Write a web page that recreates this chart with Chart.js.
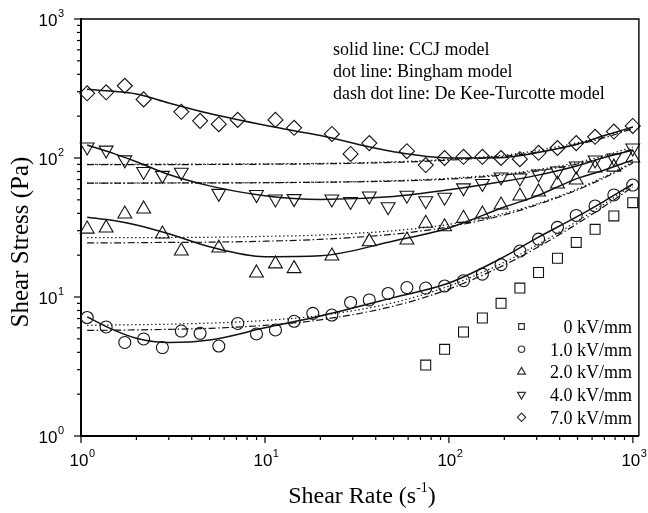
<!DOCTYPE html>
<html>
<head>
<meta charset="utf-8">
<script src="https://cdn.jsdelivr.net/npm/chart.js@4.4.1/dist/chart.umd.min.js"></script>
<style>
  html, body { margin: 0; padding: 0; background: #fff; }
  canvas { display: block; }
</style>
</head>
<body>
<canvas id="chart" width="648" height="513"></canvas>
<script>
// measured shear rates (s^-1), shared by all field strengths
const rates = [1.08, 1.37, 1.73, 2.19, 2.77, 3.51, 4.44, 5.61, 7.11, 8.99,
  11.4, 14.4, 18.2, 23.1, 29.2, 36.9, 46.7, 59.1, 74.8, 94.7,
  120, 152, 192, 243, 307, 389, 492, 623, 788, 998];

// shear stress (Pa), null = no symbol
const stress0kV = [null, null, null, null, null, null, null, null, null, null,
  null, null, null, null, null, null, null, null, 3.24, 4.2,
  5.6, 7.06, 9.01, 11.6, 15.0, 19.0, 24.7, 30.7, 38.3, 47.7];
const stress1kV = [7.12, 6.09, 4.71, 4.99, 4.33, 5.69, 5.48, 4.44, 6.45, 5.42,
  5.79, 6.69, 7.63, 7.42, 9.13, 9.52, 10.6, 11.7, 11.6, 12.0,
  13.1, 14.6, 17.1, 21.4, 26.1, 31.7, 38.6, 45.2, 54.2, 63.9];
const stress2kV = [30.8, 31.4, 39.5, 43, 28.4, 21.4, null, 22.5, null, 14.9,
  17.3, 16.0, null, 19.7, null, 25, null, 25.7, 33.9, 32,
  36.8, 39.5, 45.9, 53.3, 57, 65, 69.5, 84.7, 86, 100];
const stress4kV = [120, 114, 97, 80, 75, 79, null, 55.7, null, 54.6,
  50.7, 51, null, 50.7, 48.7, 53.3, 44.6, 54, 49.3, 52.2,
  61, 65.6, 73, 71.8, 76.7, 80.6, 87.6, 96.8, 100, 118];
const stress7kV = [292, 297, 331, 264, null, 215, 185, 175, 188, null,
  188, 165, null, 149, 107, 128, null, 112, 89, 100,
  102, 102, 100, 98, 109, 118, 128, 142, 155, 170];

// model curves
const modelRates = [1.08, 1.5, 2, 3, 5, 10, 20, 50, 100, 200, 300, 500, 700, 1000];
const ccj1kV = [7.2, 5.8, 5.05, 4.7, 4.9, 6.0, 7.3, 9.9, 12.6, 19.5, 26.5, 38, 49, 65];
const bingham1kV = [6.26, 6.29, 6.32, 6.37, 6.49, 6.78, 7.36, 9.1, 12.0, 17.8, 23.6, 35.2, 46.8, 64.2];
const dkt1kV = [5.75, 5.77, 5.8, 5.85, 5.95, 6.25, 6.85, 8.6, 11.4, 17.0, 22.6, 33.8, 45, 62];
const ccj2kV = [37.5, 35.5, 33, 28.5, 23, 19.5, 19.8, 25.3, 31.4, 44.4, 53.3, 71.4, 82, 97];
const bingham2kV = [26.7, 26.7, 26.7, 26.8, 26.9, 27.3, 27.9, 30, 33.3, 40, 46.7, 60, 73.5, 93.6];
const dkt2kV = [24.5, 24.5, 24.6, 24.7, 24.8, 25.2, 26, 28.3, 32, 39, 46, 59, 72, 92];
const ccj4kV = [124, 108, 94, 76, 63, 53.5, 50.3, 52.8, 59, 68, 75, 88, 101, 114];
const bingham4kV = [66, 66, 66.1, 66.2, 66.3, 66.5, 67.1, 68.7, 71.4, 76.8, 82.2, 93, 104, 120];
const dkt4kV = [66, 66, 66, 66.1, 66.2, 66.4, 66.9, 68.2, 70.5, 75.5, 80.5, 90.5, 101, 116];
const ccj7kV = [312, 302, 289, 249, 209, 172, 145, 111, 100, 101, 109, 126, 145, 167];
const bingham7kV = [90.1, 90.1, 90.2, 90.3, 90.4, 90.8, 91.5, 93.9, 97.7, 105, 113, 129, 144, 167];
const dkt7kV = [89.5, 89.5, 89.6, 89.7, 89.8, 90.2, 90.8, 93, 96.5, 103, 110, 125, 140, 163];

const legendLabels = ['0 kV/mm', '1.0 kV/mm', '2.0 kV/mm', '4.0 kV/mm', '7.0 kV/mm'];
const notes = ['solid line: CCJ model', 'dot line: Bingham model', 'dash dot line: De Kee-Turcotte model'];
const decades = [1, 10, 100, 1000];
const exponents = ['0', '1', '2', '3'];

const SERIF = "'Liberation Serif', 'Times New Roman', serif";
const SANS = "'Liberation Sans Narrow', 'Liberation Sans', Arial, sans-serif";

function pairs(xs, ys) {
  const out = [];
  xs.forEach((x, i) => { if (ys[i] != null) out.push({ x: x, y: ys[i] }); });
  return out;
}

const symbols = [
  { data: stress0kV, style: 'rect', r: 7, rot: 0, legR: 4 },
  { data: stress1kV, style: 'circle', r: 6, rot: 0, legR: 3.2 },
  { data: stress2kV, style: 'triangle', r: 8, rot: 0, legR: 4.5 },
  { data: stress4kV, style: 'triangle', r: 8, rot: 180, legR: 4.5 },
  { data: stress7kV, style: 'rectRot', r: 7.5, rot: 0, legR: 4.2 }
];

const DOT = [1.4, 2.6];
const DASHDOT = [7, 2.5, 1.5, 2.5];
const models = [
  [ccj1kV, []], [bingham1kV, DOT], [dkt1kV, DASHDOT],
  [ccj2kV, []], [bingham2kV, DOT], [dkt2kV, DASHDOT],
  [ccj4kV, []], [bingham4kV, DOT], [dkt4kV, DASHDOT],
  [ccj7kV, []], [bingham7kV, DOT], [dkt7kV, DASHDOT]
];

const datasets = [];
models.forEach(m => {
  datasets.push({
    data: pairs(modelRates, m[0]),
    showLine: true,
    borderColor: '#111',
    borderWidth: m[1].length ? 1.2 : 1.5,
    borderDash: m[1],
    pointRadius: 0,
    cubicInterpolationMode: 'monotone',
    fill: false
  });
});
symbols.forEach((s, i) => {
  datasets.push({
    label: legendLabels[i],
    data: pairs(rates, s.data),
    showLine: false,
    pointStyle: s.style,
    pointRadius: s.r,
    pointRotation: s.rot,
    pointBorderColor: '#111',
    pointBorderWidth: 1.1,
    pointBackgroundColor: 'rgba(0,0,0,0)',
    clip: 12
  });
});

function tickValues(maxV) {
  const out = [];
  decades.forEach(d => {
    for (let m = 1; m < 10; m++) {
      if (m * d <= maxV) out.push(m * d);
    }
  });
  return out;
}

const decor = {
  id: 'decor',
  afterDraw(chart) {
    const { ctx, chartArea: a, scales } = chart;
    const x = scales.x, y = scales.y;
    ctx.save();
    ctx.strokeStyle = '#000';
    ctx.fillStyle = '#000';

    // top and right frame
    ctx.lineWidth = 1.4;
    ctx.beginPath();
    ctx.moveTo(a.left, a.top);
    ctx.lineTo(a.right, a.top);
    ctx.lineTo(a.right, a.bottom);
    ctx.stroke();

    // outward ticks
    ctx.lineWidth = 1.2;
    tickValues(x.max).forEach(v => {
      const px = x.getPixelForValue(v);
      const len = decades.includes(v) ? 7 : 4;
      ctx.beginPath(); ctx.moveTo(px, a.bottom); ctx.lineTo(px, a.bottom + len); ctx.stroke();
    });
    tickValues(y.max).forEach(v => {
      const py = y.getPixelForValue(v);
      const len = decades.includes(v) ? 7 : 4;
      ctx.beginPath(); ctx.moveTo(a.left, py); ctx.lineTo(a.left - len, py); ctx.stroke();
    });

    // tick labels 10^n
    ctx.textBaseline = 'middle';
    decades.forEach((d, i) => {
      ctx.font = '17px ' + SANS;
      const wb = ctx.measureText('10').width;
      ctx.font = '11px ' + SANS;
      const we = ctx.measureText(exponents[i]).width;
      // x axis
      let px = x.getPixelForValue(d) - (wb + we) / 2 + 1;
      ctx.textAlign = 'left';
      ctx.font = '17px ' + SANS;
      ctx.fillText('10', px, 461);
      ctx.font = '11px ' + SANS;
      ctx.fillText(exponents[i], px + wb + 0.5, 454);
      // y axis
      const py = y.getPixelForValue(d);
      const right = 64;
      ctx.font = '17px ' + SANS;
      ctx.fillText('10', right - we - wb - 0.5, py + 2);
      ctx.font = '11px ' + SANS;
      ctx.fillText(exponents[i], right - we, py - 5);
    });

    // axis titles
    ctx.textBaseline = 'alphabetic';
    ctx.font = '24px ' + SERIF;
    const t1 = 'Shear Rate (s', t2 = ')';
    const w1 = ctx.measureText(t1).width, w2 = ctx.measureText(t2).width;
    ctx.font = '14px ' + SERIF;
    const ws = ctx.measureText('-1').width;
    let sx = 362 - (w1 + ws + w2) / 2;
    ctx.textAlign = 'left';
    ctx.font = '24px ' + SERIF;
    ctx.fillText(t1, sx, 503);
    ctx.font = '14px ' + SERIF;
    ctx.fillText('-1', sx + w1, 492);
    ctx.font = '24px ' + SERIF;
    ctx.fillText(t2, sx + w1 + ws, 503);

    ctx.save();
    ctx.translate(28, 242);
    ctx.rotate(-Math.PI / 2);
    ctx.textAlign = 'center';
    ctx.font = '25px ' + SERIF;
    ctx.fillText('Shear Stress (Pa)', 0, 0);
    ctx.restore();

    // model notes
    ctx.font = '18px ' + SERIF;
    ctx.textAlign = 'left';
    notes.forEach((n, i) => ctx.fillText(n, 333, 55 + i * 22));

    // legend
    symbols.forEach((s, i) => {
      const ly = 326.5 + i * 22.7;
      ctx.strokeStyle = '#333';
      ctx.fillStyle = 'rgba(0,0,0,0)';
      Chart.helpers.drawPoint(ctx, { pointStyle: s.style, radius: s.legR, rotation: s.rot, borderWidth: 0.9 }, 521.5, ly);
      ctx.fillStyle = '#000';
      ctx.textAlign = 'right';
      ctx.fillText(legendLabels[i], 632, ly + 6.5);
    });
    ctx.restore();
  }
};

new Chart(document.getElementById('chart'), {
  type: 'scatter',
  data: { datasets: datasets },
  options: {
    responsive: false,
    animation: false,
    layout: { padding: { top: 19, right: 6, left: 0, bottom: 0 } },
    plugins: { legend: { display: false }, tooltip: { enabled: false } },
    scales: {
      x: {
        type: 'logarithmic', min: 1, max: 1078,
        ticks: { display: false },
        grid: { display: false },
        border: { color: '#000', width: 2 },
        afterFit: s => { s.height = 77; }
      },
      y: {
        type: 'logarithmic', min: 1, max: 1000,
        ticks: { display: false },
        grid: { display: false },
        border: { color: '#000', width: 2 },
        afterFit: s => { s.width = 81; }
      }
    }
  },
  plugins: [decor]
});
</script>
</body>
</html>
